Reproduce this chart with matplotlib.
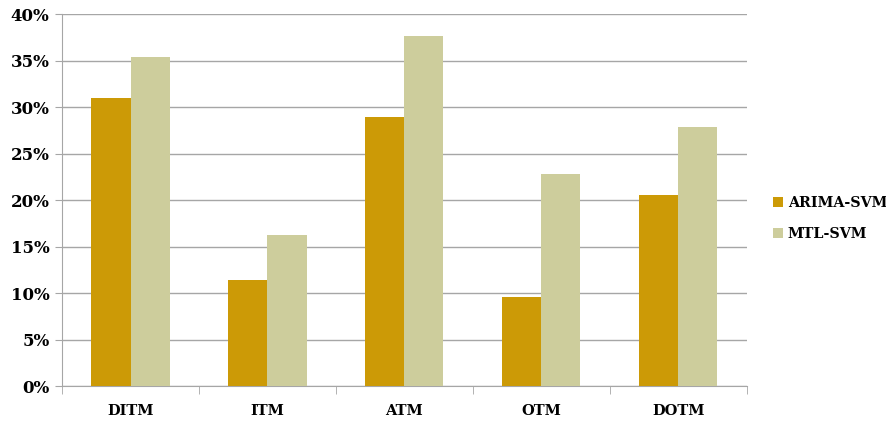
import matplotlib.pyplot as plt
import numpy as np
from matplotlib.ticker import FuncFormatter

categories = ["DITM", "ITM", "ATM", "OTM", "DOTM"]
arima_svm = [31.0, 11.4, 28.9, 9.6, 20.5]
mtl_svm = [35.4, 16.2, 37.6, 22.8, 27.9]

plt.rcParams["font.family"] = ["DejaVu Serif"]
plt.rcParams["font.weight"] = "bold"

fig = plt.figure(figsize=(8.86, 4.29), dpi=100)
ax = fig.add_axes([0.070, 0.100, 0.773, 0.867])

x = np.arange(len(categories))
width = 0.285
ax.bar(x - width / 2, arima_svm, width, color="#CC9A06", label="ARIMA-SVM", zorder=3)
ax.bar(x + width / 2, mtl_svm, width, color="#CDCD9C", label="MTL-SVM", zorder=3)

ax.set_xlim(-0.5, len(categories) - 0.5)
ax.set_ylim(0, 40)
ax.set_yticks(np.arange(0, 41, 5))
ax.yaxis.set_major_formatter(FuncFormatter(lambda v, _: f"{v:.0f}%"))
ax.grid(axis="y", color="#A6A6A6", linewidth=1, zorder=0)

# category labels sit between boundary tick marks
ax.set_xticks(x)
ax.set_xticklabels(categories)
ax.set_xticks(np.arange(-0.5, len(categories)), minor=True)
ax.tick_params(axis="x", which="major", length=0, pad=13, labelsize=10.5)
ax.tick_params(axis="x", which="minor", length=6, color="#A6A6A6", direction="out")
ax.tick_params(axis="y", length=5, color="#A6A6A6", labelsize=12, pad=4)

for side in ("top", "right"):
    ax.spines[side].set_visible(False)
for side in ("left", "bottom"):
    ax.spines[side].set_color("#A6A6A6")

ax.legend(loc="center left", bbox_to_anchor=(1.02, 0.45), frameon=False,
          fontsize=10.3, handlelength=0.7, handleheight=0.7, labelspacing=1.2,
          handletextpad=0.3)

fig.savefig("out.png", dpi=100)
